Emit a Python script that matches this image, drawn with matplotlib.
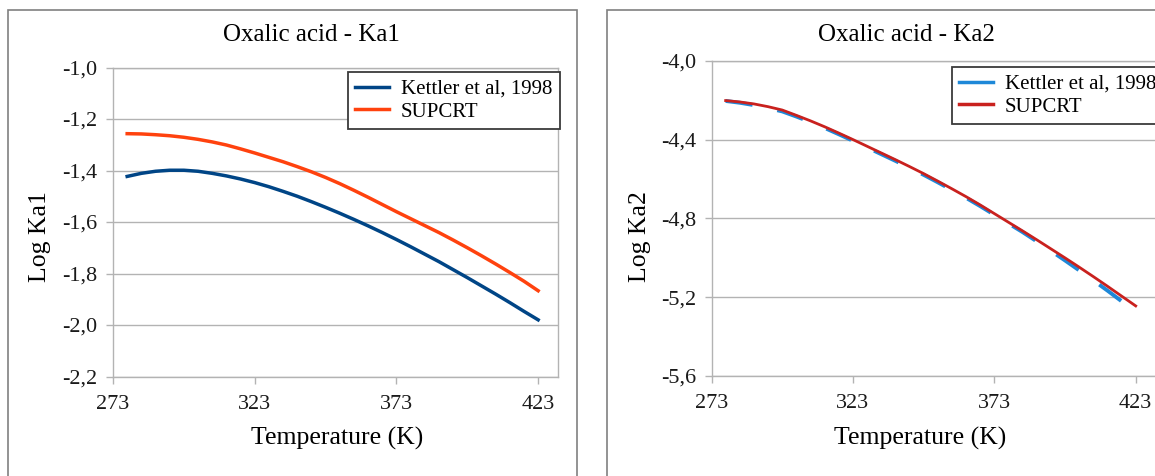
import matplotlib.pyplot as plt
from matplotlib.patches import Rectangle

plt.rcParams["font.family"] = ["Liberation Serif", "DejaVu Serif"]

# Oxalic acid dissociation constants vs temperature (K)
temp = [278, 283, 288, 293, 298, 303, 308, 313, 318, 323, 328, 333, 338, 343, 348,
        353, 358, 363, 368, 373, 378, 383, 388, 393, 398, 403, 408, 413, 418, 423]

kettler_ka1 = [-1.423, -1.411, -1.403, -1.399, -1.399, -1.403, -1.411, -1.421, -1.433, -1.447,
               -1.463, -1.481, -1.500, -1.521, -1.543, -1.566, -1.590, -1.615, -1.641, -1.668,
               -1.696, -1.725, -1.754, -1.785, -1.816, -1.848, -1.880, -1.913, -1.947, -1.980]
supcrt_ka1 = [-1.257, -1.258, -1.261, -1.265, -1.271, -1.279, -1.289, -1.301, -1.316, -1.332,
              -1.349, -1.366, -1.385, -1.405, -1.427, -1.451, -1.477, -1.504, -1.532, -1.560,
              -1.587, -1.614, -1.641, -1.670, -1.700, -1.731, -1.763, -1.796, -1.830, -1.867]

kettler_ka2 = [-4.203, -4.212, -4.224, -4.239, -4.256, -4.282, -4.310, -4.340, -4.372, -4.405,
               -4.439, -4.473, -4.507, -4.542, -4.578, -4.616, -4.655, -4.695, -4.737, -4.781,
               -4.825, -4.869, -4.916, -4.964, -5.013, -5.063, -5.114, -5.166, -5.220, -5.276]
supcrt_ka2 = [-4.201, -4.208, -4.218, -4.232, -4.249, -4.276, -4.304, -4.334, -4.366, -4.399,
              -4.433, -4.467, -4.501, -4.536, -4.572, -4.610, -4.649, -4.689, -4.731, -4.775,
              -4.819, -4.863, -4.908, -4.954, -5.000, -5.047, -5.095, -5.144, -5.194, -5.244]

x_ticks = [273, 323, 373, 423]
y_ticks1 = [-2.2, -2.0, -1.8, -1.6, -1.4, -1.2, -1.0]
y_labels1 = ["-2,2", "-2,0", "-1,8", "-1,6", "-1,4", "-1,2", "-1,0"]
y_ticks2 = [-5.6, -5.2, -4.8, -4.4, -4.0]
y_labels2 = ["-5,6", "-5,2", "-4,8", "-4,4", "-4,0"]

W, H = 1155, 476
fig = plt.figure(figsize=(W / 100, H / 100), dpi=100)

# panel frames
for x0, x1 in [(8, 577), (607, 1160)]:
    fig.patches.append(Rectangle((x0 / W, -0.05), (x1 - x0) / W, 1.05 - 10 / H,
                                 transform=fig.transFigure, fill=False,
                                 edgecolor="#808080", linewidth=1.2))

grid_c = "#b3b3b3"


def style(ax, yt, yl, ylim):
    ax.set_xlim(273, 430)
    ax.set_ylim(*ylim)
    ax.set_xticks(x_ticks)
    ax.set_xticklabels([str(t) for t in x_ticks])
    ax.set_yticks(yt)
    ax.set_yticklabels(yl)
    ax.grid(axis="y", color=grid_c, linewidth=1.0)
    ax.set_axisbelow(True)
    for s in ax.spines.values():
        s.set_color(grid_c)
        s.set_linewidth(1.0)
    ax.tick_params(axis="both", colors=grid_c, labelcolor="#1a1a1a",
                   labelsize=16, length=5, width=1.0)
    ax.tick_params(axis="y", pad=6)
    ax.tick_params(axis="x", pad=8)


def legend(ax, x, y):
    leg = ax.legend(loc="upper left", bbox_to_anchor=(x / W, 1 - y / H),
                    bbox_transform=fig.transFigure, borderaxespad=0,
                    fontsize=15, frameon=True, fancybox=False,
                    handlelength=1.6, handletextpad=0.6, labelspacing=0.15,
                    borderpad=0.35)
    fr = leg.get_frame()
    fr.set_edgecolor("#3a3a3a")
    fr.set_linewidth(1.3)
    fr.set_alpha(1)
    return leg


# Ka1
ax1 = fig.add_axes([113 / W, 1 - 376.5 / H, 445 / W, 309 / H])
ax1.plot(temp, kettler_ka1, color="#004586", lw=2.5, label="Kettler et al, 1998")
ax1.plot(temp, supcrt_ka1, color="#ff420e", lw=2.5, label="SUPCRT")
style(ax1, y_ticks1, y_labels1, (-2.2, -1.0))
legend(ax1, 348, 72)

# Ka2
ax2 = fig.add_axes([711.5 / W, 1 - 376 / H, 444 / W, 315 / H])
ax2.plot(temp, kettler_ka2, color="#1e88d8", lw=2.8, dashes=(7, 6.5),
         label="Kettler et al, 1998")
ax2.plot(temp, supcrt_ka2, color="#c9211e", lw=2.0, label="SUPCRT")
style(ax2, y_ticks2, y_labels2, (-5.6, -4.0))
leg2 = legend(ax2, 952, 67)
for h in leg2.legend_handles:
    h.set_linestyle("-")
    h.set_linewidth(2.5)

# titles and axis labels
fig.text(311 / W, 1 - 35 / H, "Oxalic acid - Ka1", ha="center", va="center", fontsize=18)
fig.text(906 / W, 1 - 35 / H, "Oxalic acid - Ka2", ha="center", va="center", fontsize=18)
fig.text(337 / W, 1 - 438 / H, "Temperature (K)", ha="center", va="center", fontsize=18.5)
fig.text(920 / W, 1 - 438 / H, "Temperature (K)", ha="center", va="center", fontsize=18.5)
fig.text(40 / W, 1 - 237 / H, "Log Ka1", ha="center", va="center", rotation=90, fontsize=18.5)
fig.text(640 / W, 1 - 237 / H, "Log Ka2", ha="center", va="center", rotation=90, fontsize=18.5)

fig.savefig("out.png", dpi=100)
